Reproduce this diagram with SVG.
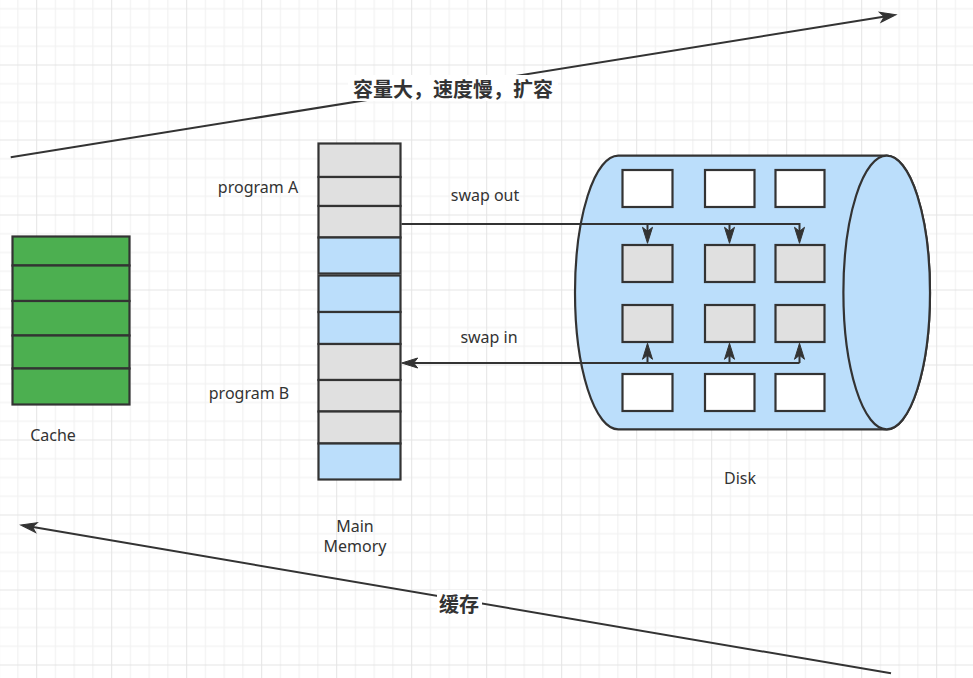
<svg xmlns="http://www.w3.org/2000/svg" width="973" height="678" viewBox="0 0 973 678">
  <defs>
    <pattern id="grid" patternUnits="userSpaceOnUse" x="36.2" y="64.5" width="75" height="75">
      <rect x="18.75" y="0" width="1" height="75" fill="#f0f0f0"/>
      <rect x="37.5" y="0" width="1" height="75" fill="#f0f0f0"/>
      <rect x="56.25" y="0" width="1" height="75" fill="#f0f0f0"/>
      <rect x="0" y="18.75" width="75" height="1" fill="#f0f0f0"/>
      <rect x="0" y="37.5" width="75" height="1" fill="#f0f0f0"/>
      <rect x="0" y="56.25" width="75" height="1" fill="#f0f0f0"/>
      <rect x="0" y="0" width="1" height="75" fill="#e4e4e4"/>
      <rect x="0" y="0" width="75" height="1" fill="#e4e4e4"/>
    </pattern>
    <marker id="arrow" markerUnits="userSpaceOnUse" markerWidth="18" markerHeight="12" refX="8" refY="5" orient="auto" overflow="visible">
      <path d="M16 5 L0 0 L4 5 L0 10 Z" fill="#333333" stroke="#333333" stroke-width="1" stroke-linejoin="miter"/>
    </marker>
    <style>
      .shape { stroke: #333333; stroke-width: 2.2; }
      .green { fill: #4caf50; }
      .gray { fill: #e0e0e0; }
      .blue { fill: #bbdefb; }
      .white { fill: #ffffff; }
      .edge { fill: none; stroke: #333333; stroke-width: 2; }
      .lbl { font-family: "Noto Sans", "Liberation Sans", "Noto Sans CJK SC", sans-serif; font-size: 16px; fill: #333333; text-anchor: middle; dominant-baseline: central; }
      .big { font-family: "Noto Sans CJK SC", "Noto Sans", sans-serif; font-size: 20px; font-weight: bold; fill: #333333; text-anchor: middle; dominant-baseline: central; }
    </style>
  </defs>

  <rect x="0" y="0" width="973" height="678" fill="#ffffff"/>
  <rect x="0" y="0" width="973" height="678" fill="url(#grid)"/>

  <g id="cache">
    <rect class="shape green" x="12.5" y="236.5" width="117" height="29"/>
    <rect class="shape green" x="12.5" y="265.5" width="117" height="35.5"/>
    <rect class="shape green" x="12.5" y="301" width="117" height="34.5"/>
    <rect class="shape green" x="12.5" y="335.5" width="117" height="33"/>
    <rect class="shape green" x="12.5" y="368.5" width="117" height="36"/>
    <text class="lbl" x="53" y="435">Cache</text>
  </g>

  <g id="main-memory">
    <rect class="shape gray" x="318.5" y="143.5" width="82" height="33.5"/>
    <rect class="shape gray" x="318.5" y="177" width="82" height="29"/>
    <rect class="shape gray" x="318.5" y="206" width="82" height="31.5"/>
    <rect class="shape blue" x="318.5" y="237.5" width="82" height="36"/>
    <rect class="shape blue" x="318.5" y="275.5" width="82" height="36.5"/>
    <rect class="shape blue" x="318.5" y="312" width="82" height="32"/>
    <rect class="shape gray" x="318.5" y="344" width="82" height="36"/>
    <rect class="shape gray" x="318.5" y="380" width="82" height="31.5"/>
    <rect class="shape gray" x="318.5" y="411.5" width="82" height="32"/>
    <rect class="shape blue" x="318.5" y="443.5" width="82" height="36"/>
    <text class="lbl" x="355" y="526">Main</text>
    <text class="lbl" x="355" y="546">Memory</text>
  </g>

  <g id="program-a"><text class="lbl" x="258" y="187">program A</text></g>
  <g id="program-b"><text class="lbl" x="249" y="393">program B</text></g>

  <g id="disk">
    <path class="shape blue" d="M618.3 155.7 L886.7 155.7 A43.3 136.8 0 0 1 886.7 429.3 L618.3 429.3 A43.3 136.8 0 0 1 618.3 155.7 Z"/>
    <ellipse class="shape blue" cx="886.7" cy="292.5" rx="43.3" ry="136.8"/>
    <rect class="shape white" x="622.5" y="170" width="50" height="37"/>
    <rect class="shape white" x="705" y="170" width="49.5" height="37"/>
    <rect class="shape white" x="775.5" y="170" width="49" height="37"/>
    <rect class="shape gray" x="622.5" y="245" width="50" height="37"/>
    <rect class="shape gray" x="705" y="245" width="49.5" height="37"/>
    <rect class="shape gray" x="775.5" y="245" width="49" height="37"/>
    <rect class="shape gray" x="622.5" y="305" width="50" height="37"/>
    <rect class="shape gray" x="705" y="305" width="49.5" height="37"/>
    <rect class="shape gray" x="775.5" y="305" width="49" height="37"/>
    <rect class="shape white" x="622.5" y="374" width="50" height="37"/>
    <rect class="shape white" x="705" y="374" width="49.5" height="37"/>
    <rect class="shape white" x="775.5" y="374" width="49" height="37"/>
    <text class="lbl" x="740" y="478">Disk</text>
  </g>

  <g id="connectors">
    <path class="edge" d="M10.7 157.3 L888.1 16" marker-end="url(#arrow)"/>
    <path class="edge" d="M891 673.3 L28.6 526.3" marker-end="url(#arrow)"/>

    <path class="edge" d="M401.5 224 L799.5 224 L799.5 235.3" marker-end="url(#arrow)"/>
    <path class="edge" d="M647.5 224 L647.5 235.3" marker-end="url(#arrow)"/>
    <path class="edge" d="M729.5 224 L729.5 235.3" marker-end="url(#arrow)"/>

    <path class="edge" d="M799.5 363 L409.7 363" marker-end="url(#arrow)"/>
    <path class="edge" d="M647.5 363 L647.5 351.3" marker-end="url(#arrow)"/>
    <path class="edge" d="M729.5 363 L729.5 351.3" marker-end="url(#arrow)"/>
    <path class="edge" d="M799.5 363 L799.5 351.3" marker-end="url(#arrow)"/>

    <g id="label-top">
      <rect x="348" y="75" width="210" height="26" fill="#ffffff"/>
      <text class="big" x="453" y="88">容量大，速度慢，扩容</text>
    </g>
    <g id="label-bottom">
      <rect x="437" y="590" width="45" height="25" fill="#ffffff"/>
      <text class="big" x="459" y="603">缓存</text>
    </g>
    <text class="lbl" x="485" y="195">swap out</text>
    <text class="lbl" x="489" y="337">swap in</text>
  </g>
</svg>
